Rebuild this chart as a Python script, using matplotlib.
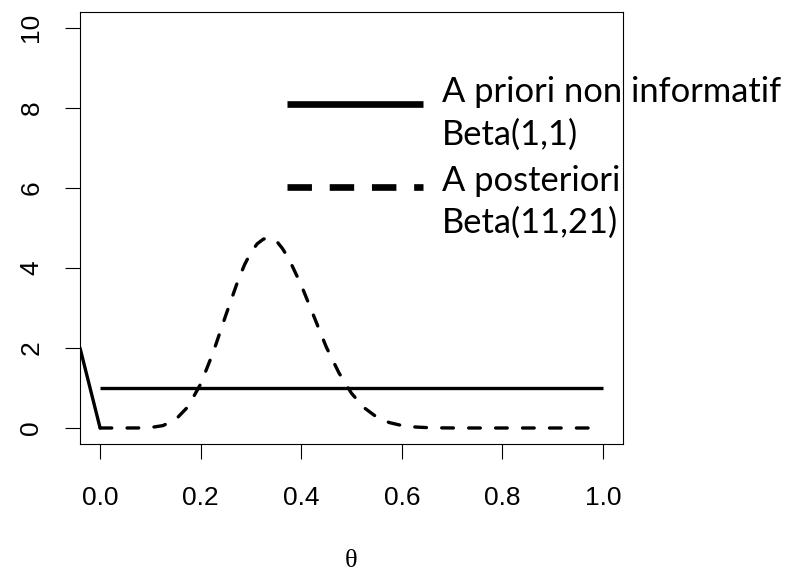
import matplotlib
matplotlib.use("Agg")
import matplotlib.pyplot as plt
from matplotlib.lines import Line2D

plt.rcParams['lines.scale_dashes'] = False

# ---- data ----
theta = [0.0, 0.025, 0.05, 0.075, 0.1, 0.125, 0.15, 0.175, 0.2, 0.225, 0.25,
         0.275, 0.2875, 0.3, 0.3125, 0.325, 0.3375, 0.35, 0.3625, 0.375, 0.4,
         0.425, 0.45, 0.475, 0.5, 0.525, 0.55, 0.575, 0.6, 0.625, 0.65, 0.675,
         0.7, 0.75, 0.8, 0.85, 0.9, 0.95, 1.0]
posterior = [0.0, 0.0, 0.0, 0.001, 0.011, 0.060, 0.208, 0.535, 1.100, 1.892, 2.817,
             3.709, 4.085, 4.388, 4.603, 4.721, 4.738, 4.683, 4.486, 4.237, 3.571,
             2.795, 2.018, 1.378, 0.867, 0.507, 0.274, 0.136, 0.062, 0.026, 0.0095, 0.0032,
             0.001, 0.0, 0.0, 0.0, 0.0, 0.0, 0.0]
prior_x = [0.0, 1.0]
prior_y = [1.0, 1.0]
stub_x = [-0.04, 0.0]
stub_y = [2.0, 0.0]

xticks = [0.0, 0.2, 0.4, 0.6, 0.8, 1.0]
xtick_labels = ["0.0", "0.2", "0.4", "0.6", "0.8", "1.0"]
yticks = [0, 2, 4, 6, 8, 10]
ytick_labels = ["0", "2", "4", "6", "8", "10"]
legend_labels = [["A priori non informatif", "Beta(1,1)"],
                 ["A posteriori", "Beta(11,21)"]]

W, H = 796, 575
fig = plt.figure(figsize=(W / 100, H / 100), dpi=100)
ax = fig.add_axes([80 / W, 1 - 444 / H, (623 - 80) / W, (444 - 11.7) / H])
ax.set_xlim(-0.04, 1.04)
ax.set_ylim(-0.4, 10.4)

lw = 2.4
ax.plot(stub_x, stub_y, color='black', lw=lw, solid_capstyle='round', solid_joinstyle='round')
ax.plot(prior_x, prior_y, color='black', lw=lw, solid_capstyle='butt')
ax.plot(theta, posterior, color='black', lw=lw, linestyle=(0, (8.4, 11.0)),
        dash_capstyle='round', dash_joinstyle='round')

for s in ax.spines.values():
    s.set_linewidth(0.8)
ax.set_xticks(xticks)
ax.set_xticklabels(xtick_labels)
ax.set_yticks(yticks)
ax.set_yticklabels(ytick_labels, rotation=90, va='center')
for lab in ax.get_xticklabels() + ax.get_yticklabels():
    lab.set_fontfamily('Liberation Sans')
    lab.set_fontsize(19)
ax.tick_params(axis='both', length=10.8, width=0.8, direction='out', colors='black')
ax.tick_params(axis='x', pad=19.5)
ax.tick_params(axis='y', pad=15.5)

fig.text(351.5 / W, 1 - 561 / H, "θ", family='Liberation Serif', size=19,
         ha='center', va='center')

# ---- legend (drawn in figure pixel coordinates) ----
def fx(px):
    return px / W

def fy(py):
    return 1 - py / H

fig.add_artist(Line2D([fx(286.7), fx(423.3)], [fy(104.3), fy(104.3)],
                      transform=fig.transFigure, color='black', lw=4.8,
                      solid_capstyle='butt'))
fig.add_artist(Line2D([fx(286.7), fx(423.3)], [fy(187.3), fy(187.3)],
                      transform=fig.transFigure, color='black', lw=4.8,
                      linestyle=(0, (17.6, 12.8)), dash_capstyle='butt'))
leg_font = dict(family='Lato', size=24.8)
baselines = [[102.3, 144.7], [191.0, 233.3]]
for lines_, bl in zip(legend_labels, baselines):
    for txt, b in zip(lines_, bl):
        fig.text(fx(441.7), fy(b), txt, ha='left', va='baseline', **leg_font)

fig.savefig("out.png", dpi=100)
